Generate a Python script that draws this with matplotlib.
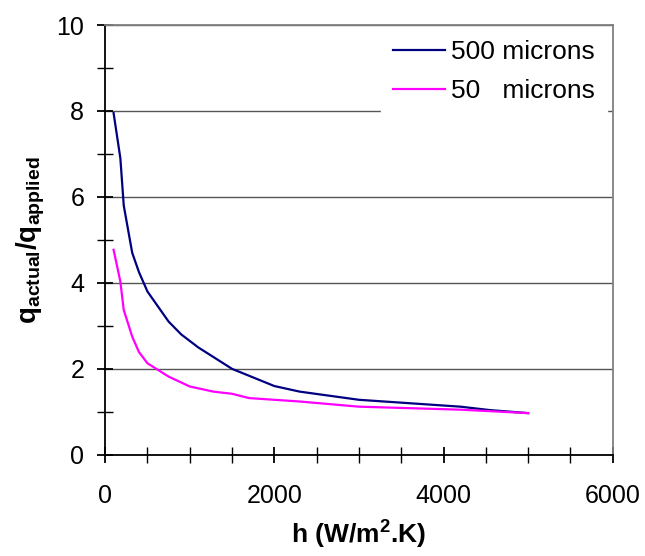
import numpy as np
import matplotlib
matplotlib.use('Agg')
import matplotlib.pyplot as plt
from matplotlib.ticker import MultipleLocator

plt.rcParams['font.family'] = ['Liberation Sans', 'DejaVu Sans']
plt.rcParams['mathtext.fontset'] = 'custom'
plt.rcParams['mathtext.rm'] = 'Liberation Sans'
plt.rcParams['mathtext.bf'] = 'Liberation Sans:bold'
plt.rcParams['mathtext.it'] = 'Liberation Sans:italic'

# 500 micron curve
h_500 = [100, 180, 220, 320, 400, 500, 750, 900, 1100, 1500, 2000, 2300, 3000, 4200, 4550, 5000]
q_500 = [7.95, 6.9, 5.8, 4.7, 4.25, 3.8, 3.1, 2.8, 2.5, 2.0, 1.6, 1.47, 1.28, 1.12, 1.04, 0.97]

# 50 micron curve
h_50 = [100, 180, 220, 320, 400, 500, 750, 1000, 1280, 1500, 1700, 2300, 3000, 4200, 5000]
q_50 = [4.77, 4.03, 3.37, 2.75, 2.39, 2.13, 1.82, 1.59, 1.47, 1.42, 1.32, 1.24, 1.12, 1.05, 0.97]

fig = plt.figure(figsize=(6.45, 5.56), dpi=100)
ax = fig.add_axes([0.163, 0.182, 0.787, 0.773])

ax.plot(h_500, q_500, color='#000080', lw=1.6, label='500 microns')
ax.plot(h_50, q_50, color='#ff00ff', lw=1.6, label='50   microns')

ax.set_xlim(0, 6000)
ax.set_ylim(0, 10)
ax.xaxis.set_major_locator(MultipleLocator(2000))
ax.xaxis.set_minor_locator(MultipleLocator(500))
ax.yaxis.set_major_locator(MultipleLocator(2))
ax.yaxis.set_minor_locator(MultipleLocator(1))
ax.tick_params(which='both', direction='inout', length=11, width=1, labelsize=18, color='black')
ax.tick_params(which='major', length=12, width=1.3)
ax.tick_params(axis='x', which='major', pad=15)
ax.tick_params(axis='y', which='major', pad=9)

ax.grid(axis='y', which='major', color='#555555', lw=1)
ax.set_axisbelow(True)

for s in ['left', 'bottom']:
    ax.spines[s].set_color('black')
    ax.spines[s].set_linewidth(1.3)
for s in ['top', 'right']:
    ax.spines[s].set_color('#808080')
    ax.spines[s].set_linewidth(1.3)

ax.set_xlabel(r'h (W/m$^{\mathbf{2}}$.K)', fontsize=19, fontweight='bold', labelpad=8)
ax.set_ylabel(r'$\mathbf{q_{actual}/q_{applied}}$', fontsize=20, labelpad=7)

leg = ax.legend(loc='upper right', bbox_to_anchor=(0.976, 0.977), fontsize=19, frameon=True,
                handlelength=1.95, borderaxespad=0, borderpad=0.2,
                handletextpad=0.25, labelspacing=0.58)
leg.get_frame().set_edgecolor('white')
leg.get_frame().set_facecolor('white')
leg.get_frame().set_alpha(1)
leg.get_frame().set_boxstyle('square', pad=0.25)

fig.savefig('out.png', dpi=100)
